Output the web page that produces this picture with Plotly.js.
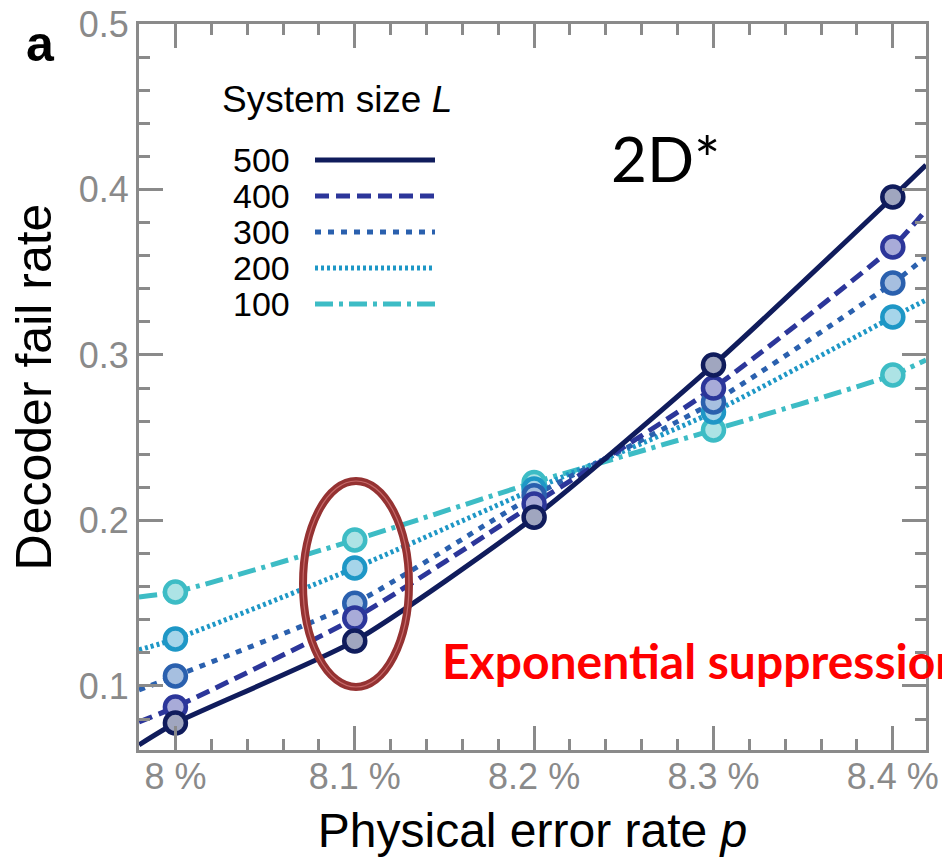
<!DOCTYPE html>
<html>
<head>
<meta charset="utf-8">
<script src="https://cdn.plot.ly/plotly-3.0.1.min.js"></script>
<style>html,body{margin:0;padding:0;background:#fff;}#chart{width:942px;height:865px;}</style>
</head>
<body>
<div id="chart"></div>
<script>
// Physical error rate p (%)
const errorRates = [8.0, 8.1, 8.2, 8.3, 8.4];
const xTickVals = [8.0, 8.1, 8.2, 8.3, 8.4];
const xTickText = ["8 %", "8.1 %", "8.2 %", "8.3 %", "8.4 %"];

// System sizes L
const sizes = ["500", "400", "300", "200", "100"];

// Decoder fail rate, measured points
const fail500 = [0.0776, 0.1272, 0.2020, 0.2940, 0.3955];
const fail400 = [0.0873, 0.1410, 0.2100, 0.2800, 0.3653];
const fail300 = [0.1060, 0.1500, 0.2150, 0.2716, 0.3435];
const fail200 = [0.1284, 0.1713, 0.2190, 0.2656, 0.3230];
const fail100 = [0.1568, 0.1882, 0.2230, 0.2547, 0.2879];

// Fitted curves (read at the axis edges + through points)
const fitX = [7.9797, 8.0, 8.1, 8.2, 8.3, 8.4, 8.4185];
const fit500 = [0.0644, 0.0776, 0.1272, 0.2020, 0.2940, 0.3955, 0.4148];
const fit400 = [0.0782, 0.0873, 0.1410, 0.2100, 0.2800, 0.3653, 0.3876];
const fit300 = [0.0976, 0.1060, 0.1500, 0.2150, 0.2716, 0.3435, 0.3592];
const fit200 = [0.1218, 0.1284, 0.1713, 0.2190, 0.2656, 0.3230, 0.3332];
const fit100 = [0.1538, 0.1568, 0.1882, 0.2230, 0.2547, 0.2879, 0.2970];

const lineColors = ["#101c5c", "#2c369a", "#2a60ae", "#1e97c6", "#3dbcc5"];
const fillColors = ["#a0a6bf", "#a8abd8", "#a6bfe0", "#a6d5ea", "#ade3e5"];
const dashes = ["solid", "14px,7px", "6px,7px", "3px,3px", "18px,6px,4px,6px"];

const pts = [fail500, fail400, fail300, fail200, fail100];
const fits = [fit500, fit400, fit300, fit200, fit100];

const traces = [];
for (let i = sizes.length - 1; i >= 0; i--) {
  traces.push({
    x: fitX, y: fits[i], mode: "lines", type: "scatter", showlegend: false,
    line: {color: lineColors[i], width: 5, dash: dashes[i], shape: "spline", smoothing: 0.6},
    hoverinfo: "skip"
  });
}
for (let i = sizes.length - 1; i >= 0; i--) {
  traces.push({
    x: errorRates, y: pts[i], mode: "markers", type: "scatter", showlegend: false,
    name: "L = " + sizes[i],
    marker: {size: 21, color: fillColors[i], line: {color: lineColors[i], width: 4.5}}
  });
}

const L = 139, R = 926, T = 24, B = 750;
const px = v => (v - L) / (R - L);
const py = v => (B - v) / (B - T);

const shapes = [];
const annotations = [];
const legendRows = [160, 196, 232, 268, 304];
for (let i = 0; i < sizes.length; i++) {
  shapes.push({type: "line", xref: "paper", yref: "paper",
    x0: px(315), x1: px(435), y0: py(legendRows[i]), y1: py(legendRows[i]),
    line: {color: lineColors[i], width: 5, dash: dashes[i]}});
  annotations.push({xref: "paper", yref: "paper", x: px(292), y: py(legendRows[i]),
    xanchor: "right", yanchor: "middle", showarrow: false, text: sizes[i],
    font: {family: "Liberation Sans, Arial, sans-serif", size: 34, color: "#000"}});
}
annotations.push({xref: "paper", yref: "paper", x: px(220), y: py(100), xanchor: "left", yanchor: "middle",
  showarrow: false, text: "System size <i>L</i>",
  font: {family: "Liberation Sans, Arial, sans-serif", size: 37, color: "#000"}});
annotations.push({xref: "paper", yref: "paper", x: px(24), y: py(44), xanchor: "left", yanchor: "middle",
  showarrow: false, text: "<b>a</b>",
  font: {family: "Liberation Sans, Arial, sans-serif", size: 50, color: "#000"}});
annotations.push({xref: "paper", yref: "paper", x: px(665), y: py(158), xanchor: "center", yanchor: "middle",
  showarrow: false, text: "2D*",
  font: {family: "Lato, Noto Sans, sans-serif", size: 62, color: "#000"}});
annotations.push({xref: "paper", yref: "paper", x: px(440), y: py(660), xanchor: "left", yanchor: "middle",
  showarrow: false, text: "<b>Exponential suppression</b>",
  font: {family: "Lato, Noto Sans, sans-serif", size: 48, color: "#ff0000"}});

shapes.push({type: "circle", xref: "paper", yref: "paper",
  x0: px(303), x1: px(409), y0: py(687), y1: py(481),
  line: {color: "#953232", width: 8}});
shapes.push({type: "circle", xref: "paper", yref: "paper",
  x0: px(303), x1: px(409), y0: py(687), y1: py(481),
  line: {color: "#c76a6a", width: 1.2}});

const axisCommon = {
  showline: true, linecolor: "#8a8a8a", linewidth: 3, mirror: "allticks",
  ticks: "inside", ticklen: 24, tickwidth: 3, tickcolor: "#8a8a8a",
  showgrid: false, zeroline: false,
  tickfont: {family: "Liberation Sans, Arial, sans-serif", size: 36, color: "#8a8a8a"}
};

const layout = {
  width: 942, height: 865,
  margin: {l: L, r: 942 - R, t: T, b: 865 - B},
  paper_bgcolor: "#fff", plot_bgcolor: "#fff",
  showlegend: false,
  xaxis: Object.assign({}, axisCommon, {
    range: [7.9797, 8.4185], tickmode: "array", tickvals: xTickVals, ticktext: xTickText,
    ticklabelstandoff: -7,
    minor: {dtick: 0.02, tick0: 8.0, ticks: "inside", ticklen: 11, tickwidth: 3, tickcolor: "#8a8a8a"},
    title: {text: "Physical error rate <i>p</i>", standoff: 18,
      font: {family: "Liberation Sans, Arial, sans-serif", size: 48, color: "#000"}}
  }),
  yaxis: Object.assign({}, axisCommon, {
    range: [0.0613, 0.5], tick0: 0, dtick: 0.1, tickformat: ".1f",
    minor: {dtick: 0.02, tick0: 0, ticks: "inside", ticklen: 11, tickwidth: 3, tickcolor: "#8a8a8a"},
    title: {text: "Decoder fail rate", standoff: 12,
      font: {family: "Liberation Sans, Arial, sans-serif", size: 50, color: "#000"}}
  }),
  shapes: shapes,
  annotations: annotations
};

Plotly.newPlot("chart", traces, layout, {displayModeBar: false, staticPlot: true});
</script>
</body>
</html>
